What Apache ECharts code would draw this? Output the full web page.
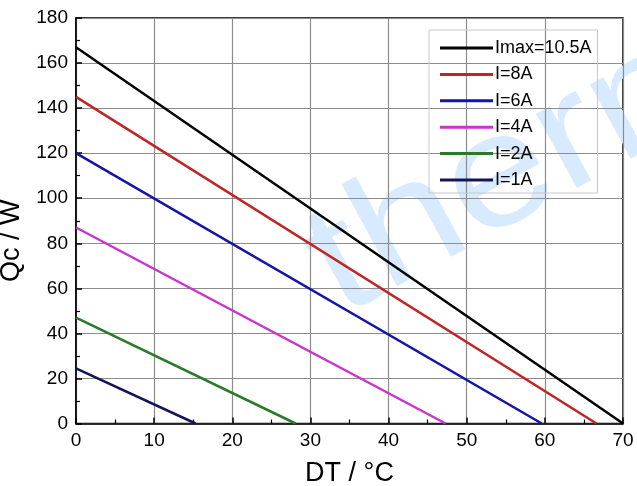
<!DOCTYPE html>
<html>
<head>
<meta charset="utf-8">
<script src="https://cdn.jsdelivr.net/npm/echarts@6/dist/echarts.min.js"></script>
<style>html,body{margin:0;padding:0;background:#fff;}#c{width:637px;height:486px;}</style>
</head>
<body>
<div id="c"></div>
<script>
var seriesNames = ['Imax=10.5A', 'I=8A', 'I=6A', 'I=4A', 'I=2A', 'I=1A'];
var qcAtZero = [167, 145, 120, 87, 47, 24.5];
var dtAtZeroQc = [70, 66.6, 59.6, 47.3, 28.1, 15.3];
var xTicks = [0, 10, 20, 30, 40, 50, 60, 70];
var yTicks = [0, 20, 40, 60, 80, 100, 120, 140, 160, 180];
var colors = ['#000000', '#c02424', '#1414a8', '#cc33cc', '#2a7a2a', '#141456'];

var chart = echarts.init(document.getElementById('c'));
var series = seriesNames.map(function (n, i) {
  return {
    name: n, type: 'line', symbol: 'none', z: 3,
    lineStyle: { color: colors[i], width: 2.5 },
    itemStyle: { color: colors[i] },
    data: [[0, qcAtZero[i]], [dtAtZeroQc[i], 0]]
  };
});
chart.setOption({
  animation: false,
  backgroundColor: '#fff',
  textStyle: { fontFamily: 'Liberation Sans, Arial, sans-serif' },
  graphic: [{
    type: 'text', x: 320, y: 278, z: 0, silent: true,
    rotation: 0.5, scaleX: 1.15,
    style: { text: 'therm', fontSize: 160, fontFamily: 'Liberation Sans, Arial', fill: '#d8ebfe', verticalAlign: 'middle', align: 'left' }
  }],
  grid: { left: 76, right: 14, top: 18, bottom: 62.5, outerBoundsMode: 'none', containLabel: false, show: true, borderColor: '#000', borderWidth: 1.5, backgroundColor: 'transparent' },
  legend: {
    orient: 'vertical', left: 429, top: 30,
    padding: [8, 6, 3, 11],
    icon: 'rect',
    itemWidth: 53, itemHeight: 3, itemGap: 6.4,
    borderColor: '#c8c8c8', borderWidth: 1, backgroundColor: 'transparent',
    textStyle: { fontSize: 18, lineHeight: 20, color: '#000', padding: [0, 0, 0, -3] },
    data: seriesNames
  },
  xAxis: {
    type: 'value', min: 0, max: 70, interval: 10,
    name: 'DT / °C', nameLocation: 'middle', nameGap: 37,
    nameTextStyle: { fontSize: 27, color: '#000' },
    axisLine: { show: true, lineStyle: { color: '#000', width: 1.5 } },
    axisTick: { show: true, inside: true, length: 6, lineStyle: { color: '#000', width: 1.5 } },
    minorTick: { show: true, splitNumber: 2, length: 4, lineStyle: { color: '#000', width: 1.2 } },
    axisLabel: { fontSize: 19, color: '#000', margin: 8,
      formatter: function (v) { return xTicks.indexOf(v) >= 0 ? String(v) : ''; } },
    splitLine: { show: true, lineStyle: { color: '#8c8c8c', width: 1.2 } }
  },
  yAxis: {
    type: 'value', min: 0, max: 180, interval: 20,
    name: 'Qc / W', nameLocation: 'middle', nameGap: 44,
    nameTextStyle: { fontSize: 27, color: '#000', padding: [0, 40, 0, 0] },
    axisLine: { show: true, lineStyle: { color: '#000', width: 1.5 } },
    axisTick: { show: true, inside: true, length: 6, lineStyle: { color: '#000', width: 1.5 } },
    minorTick: { show: true, splitNumber: 2, length: 4, lineStyle: { color: '#000', width: 1.2 } },
    axisLabel: { fontSize: 19, color: '#000', margin: 8,
      formatter: function (v) { return yTicks.indexOf(v) >= 0 ? String(v) : ''; } },
    splitLine: { show: true, lineStyle: { color: '#8c8c8c', width: 1.2 } }
  },
  series: series
});
</script>
</body>
</html>
